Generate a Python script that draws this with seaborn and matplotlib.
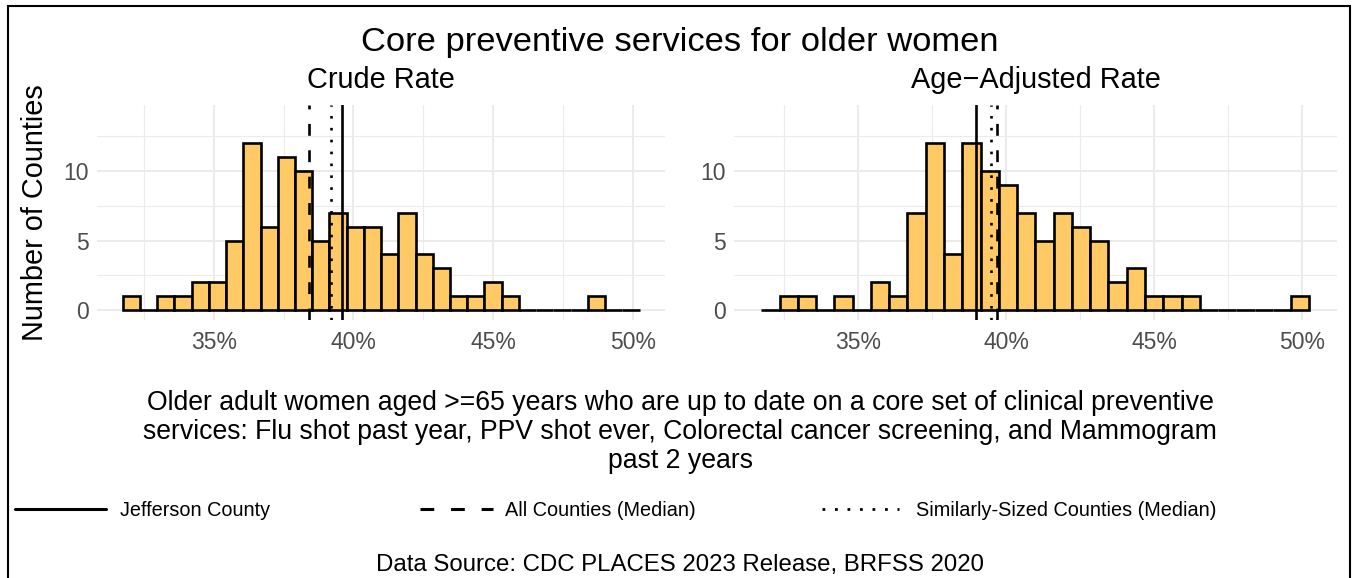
import numpy as np
import pandas as pd
import matplotlib
matplotlib.use("Agg")
import matplotlib.pyplot as plt
import seaborn as sns
from matplotlib.lines import Line2D
from matplotlib.patches import Rectangle
from matplotlib.ticker import FixedLocator, FuncFormatter

# shared histogram bins (percent)
bin_range = (31.74, 50.24)
n_bins = 30

crude_counts = [1, 0, 1, 1, 2, 2, 5, 12, 6, 11, 10, 5, 7, 6, 6,
                4, 7, 4, 3, 1, 1, 2, 1, 0, 0, 0, 0, 1, 0, 0]
adjusted_counts = [0, 1, 1, 0, 1, 0, 2, 1, 7, 12, 4, 12, 10, 9, 7,
                   5, 7, 6, 5, 2, 3, 1, 1, 1, 0, 0, 0, 0, 0, 1]

panel_titles = ["Crude Rate", "Age\u2212Adjusted Rate"]
jefferson = [39.60, 39.00]
all_median = [38.40, 39.70]
similar_median = [39.19, 39.48]

x_ticks = [35, 40, 45, 50]
y_ticks = [0, 5, 10]

title = "Core preventive services for older women"
caption = ("Older adult women aged >=65 years who are up to date on a core set of clinical preventive\n"
           "services: Flu shot past year, PPV shot ever, Colorectal cancer screening, and Mammogram\n"
           "past 2 years")
source = "Data Source: CDC PLACES 2023 Release, BRFSS 2020"
legend_labels = ["Jefferson County", "All Counties (Median)", "Similarly-Sized Counties (Median)"]

sns.set_theme(style="white")
plt.rcParams["font.family"] = ["Liberation Sans", "DejaVu Sans"]
plt.rcParams["text.color"] = "black"
plt.rcParams["axes.labelcolor"] = "black"

FILL = "#FFC966"
GRID = "#EBEBEB"
DASH = (0, (4.5, 5.5))
DOT = (0, (1, 3.5))

W, H = 1353, 578
fig = plt.figure(figsize=(W / 100, H / 100), dpi=100)

width = (bin_range[1] - bin_range[0]) / n_bins
centers = bin_range[0] + width * (np.arange(n_bins) + 0.5)
frames = [
    pd.DataFrame({"rate": centers, "n": crude_counts}),
    pd.DataFrame({"rate": centers, "n": adjusted_counts}),
]

panels = [(97, 665.5), (734, 1337)]
top, bottom = 105, 320

for i, (x0, x1) in enumerate(panels):
    ax = fig.add_axes([x0 / W, 1 - bottom / H, (x1 - x0) / W, (bottom - top) / H])
    sns.histplot(data=frames[i], x="rate", weights="n", bins=n_bins,
                 binrange=bin_range, color=FILL, edgecolor="black",
                 linewidth=1.9, alpha=1, ax=ax, zorder=2)
    ax.axvline(jefferson[i], color="black", lw=1.9, zorder=3)
    ax.axvline(all_median[i], color="black", lw=1.9, ls=DASH, zorder=3)
    ax.axvline(similar_median[i], color="black", lw=1.9, ls=DOT, zorder=3)

    ax.set_xlim(30.82, 51.17)
    ax.set_ylim(-0.72, 14.75)
    ax.xaxis.set_major_locator(FixedLocator(x_ticks))
    ax.xaxis.set_minor_locator(FixedLocator([32.5, 37.5, 42.5, 47.5]))
    ax.yaxis.set_major_locator(FixedLocator(y_ticks))
    ax.yaxis.set_minor_locator(FixedLocator([2.5, 7.5, 12.5]))
    ax.xaxis.set_major_formatter(FuncFormatter(lambda v, p: f"{v:.0f}%"))
    ax.grid(which="major", color=GRID, lw=1.5, zorder=0)
    ax.grid(which="minor", color=GRID, lw=0.8, zorder=0)
    ax.set_axisbelow(True)
    ax.tick_params(which="both", length=0, labelsize=16.5, labelcolor="#4D4D4D")
    ax.tick_params(axis="x", pad=8)
    ax.tick_params(axis="y", pad=6)
    for s in ax.spines.values():
        s.set_visible(False)
    ax.set_xlabel("")
    ax.set_title(panel_titles[i], fontsize=20.8, pad=12)
    if i == 0:
        ax.set_ylabel("Number of Counties", fontsize=20.8, labelpad=10)
    else:
        ax.set_ylabel("")

fig.text(680 / W, 1 - 42 / H, title, ha="center", va="center", fontsize=24.8)
fig.text(680 / W, 1 - 432 / H, caption, ha="center", va="center",
         fontsize=19.2, linespacing=1.15)
fig.text(680 / W, 1 - 565 / H, source, ha="center", va="center", fontsize=17.3)

handles = [Line2D([], [], color="black", lw=2.2),
           Line2D([], [], color="black", lw=2.2, ls=DASH),
           Line2D([], [], color="black", lw=2.0, ls=DOT)]
starts = [15, 420, 822]
hlen = [4.6, 3.7, 3.9]
hpad = [0.7, 0.6, 0.85]
for h, lab, x, hl, hp in zip(handles, legend_labels, starts, hlen, hpad):
    fig.legend(handles=[h], labels=[lab], loc="center left",
               bbox_to_anchor=(x / W, 1 - 510 / H), frameon=False,
               borderpad=0, borderaxespad=0, handlelength=hl,
               handletextpad=hp, fontsize=14.3)

fig.add_artist(Rectangle((8 / W, -0.05), (1350 - 8) / W, 1.05 - 6 / H,
                         transform=fig.transFigure, fill=False,
                         edgecolor="black", lw=1.5))

fig.savefig("out.png", dpi=100, facecolor="white")
